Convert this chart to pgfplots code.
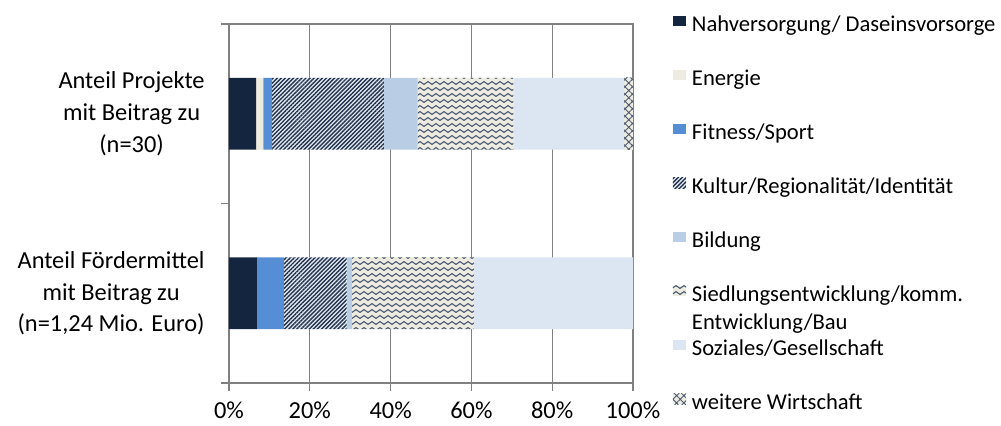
\documentclass[border=0pt]{standalone}
\usepackage{fontspec}
\setmainfont{Carlito}
\usepackage{pgfplots}
\pgfplotsset{compat=1.18}
\usetikzlibrary{patterns,patterns.meta}

\definecolor{navy}{RGB}{20,37,63}
\definecolor{tan}{RGB}{238,236,225}
\definecolor{sport}{RGB}{85,142,213}
\definecolor{bildung}{RGB}{185,205,229}
\definecolor{sozial}{RGB}{220,230,242}
\definecolor{axgray}{RGB}{128,128,128}
\definecolor{hatchc}{RGB}{31,51,80}
\definecolor{wavec}{RGB}{75,90,115}
\definecolor{stripebg}{RGB}{232,235,240}

% zigzag wave pattern
\tikzdeclarepattern{
  name=waves,
  type=uncolored,
  bounding box={(-0.2pt,-1.2pt) and (4.2pt,1.2pt)},
  tile size={(4pt,3pt)},
  code={\draw[line width=0.55pt] (0pt,-0.7pt) -- (2pt,0.7pt) -- (4pt,-0.7pt);}
}

% shares in percent: y=1 projects, y=0 funding
\pgfplotstableread{
y  nah  ene  fit  kul   bil  sie   soz   wei
0  6.9  0.0  6.7  15.5  1.3  30.2  39.4  0.0
1  6.7  1.8  2.1  27.8  8.3  23.7  27.4  2.2
}\shares

\begin{document}
\begin{tikzpicture}
\useasboundingbox (-114.5pt,-21pt) rectangle (386pt,191.5pt);
\begin{axis}[
  at={(0pt,0pt)}, anchor=south west,
  scale only axis,
  width=202pt, height=179.5pt,
  xbar stacked,
  bar width=0.4,
  legend image code/.code={\path[#1,draw=none] (0pt,0pt) rectangle (6.6pt,5.3pt);},
  xmin=0, xmax=100,
  ymin=-0.5, ymax=1.5,
  xtick={0,20,40,60,80,100},
  xticklabel={\pgfmathprintnumber{\tick}\%},
  /pgf/number format/assume math mode=true,
  ytick={0,1},
  yticklabels={{Anteil Fördermittel\\mit Beitrag zu\\(n=1,24 Mio. Euro)},
               {Anteil Projekte\\mit Beitrag zu\\(n=30)}},
  minor ytick={-0.5,0.5,1.5},
  major y tick style={draw=none},
  minor y tick style={axgray, line width=0.6pt},
  major x tick style={axgray, line width=0.6pt},
  major tick length=4pt, minor tick length=4pt,
  tick align=outside, tick pos=left,
  xmajorgrids,
  major grid style={axgray, line width=0.6pt},
  axis line style={axgray, line width=0.6pt},
  xticklabel style={font=\fontsize{12.2}{15}\selectfont, inner sep=0pt, anchor=base, yshift=-13.5pt},
  yticklabel style={font=\fontsize{12.2}{15.8}\selectfont, align=center, inner sep=0pt, xshift=-8pt},
  legend cell align=left,
  legend style={draw=none, fill=none, inner sep=0pt, outer sep=0pt,
    at={(1.099,1.0242)}, anchor=north west,
    row sep=16pt, column sep=2.9pt,
    nodes={inner sep=0pt, text height=8pt, text depth=3pt,
           font=\fontsize{11.3}{14}\selectfont}},
]
\addplot[fill=navy, draw=none] table[x=nah, y=y] {\shares};
\addplot[fill=tan, draw=none] table[x=ene, y=y] {\shares};
\addplot[fill=sport, draw=none] table[x=fit, y=y] {\shares};
\addplot[fill=stripebg, draw=none,
  postaction={pattern={Lines[angle=45,distance=1.45pt,line width=0.7pt]}, pattern color=hatchc}]
  table[x=kul, y=y] {\shares};
\addplot[fill=bildung, draw=none] table[x=bil, y=y] {\shares};
\addplot[fill=tan, draw=none,
  postaction={pattern=waves, pattern color=wavec}]
  table[x=sie, y=y] {\shares};
\addplot[fill=sozial, draw=none] table[x=soz, y=y] {\shares};
\addplot[fill=tan, draw=none,
  postaction={pattern={Hatch[angle=45,distance=2.6pt,line width=0.45pt]}, pattern color=wavec}]
  table[x=wei, y=y] {\shares};
\legend{Nahversorgung/ Daseinsvorsorge, Energie, Fitness/Sport,
  Kultur/Regionalität/Identität, Bildung,
  {\begin{tabular}[t]{@{}l@{}}Siedlungsentwicklung/komm.\\Entwicklung/Bau\end{tabular}},
  Soziales/Gesellschaft, weitere Wirtschaft}
\end{axis}
\end{tikzpicture}
\end{document}
